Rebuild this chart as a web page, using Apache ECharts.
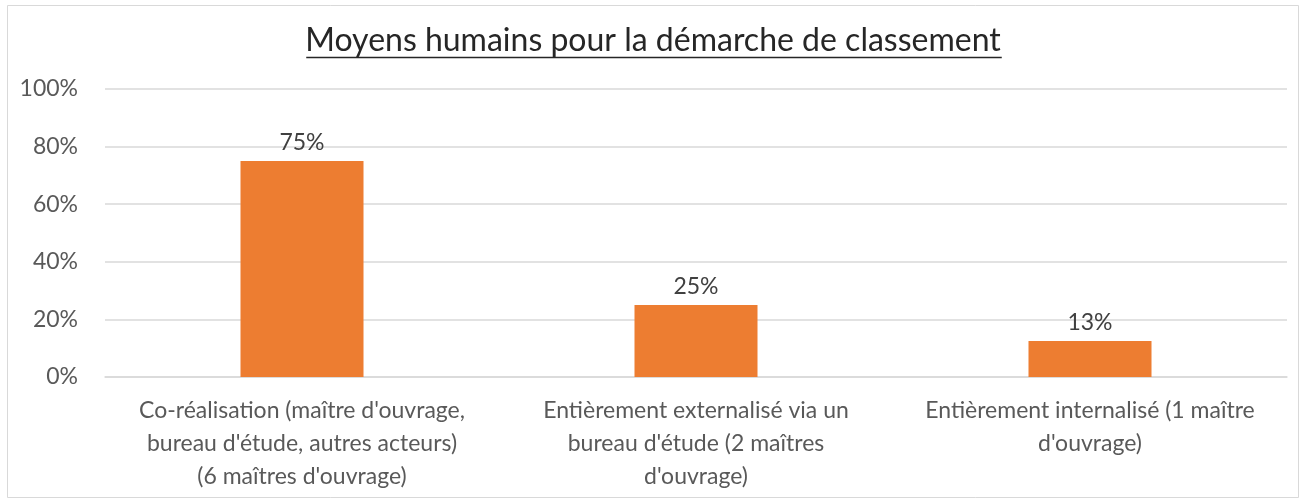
<!DOCTYPE html>
<html>
<head>
<meta charset="utf-8">
<script src="https://cdn.jsdelivr.net/npm/echarts@6/dist/echarts.min.js"></script>
<style>
  html, body { margin: 0; padding: 0; background: #fff; }
  #chart { width: 1306px; height: 502px; }
</style>
</head>
<body>
<div id="chart"></div>
<script>
var titleText = 'Moyens humains pour la démarche de classement';
var categories = [
    "Co-réalisation (maître d'ouvrage,\nbureau d'étude, autres acteurs)\n(6 maîtres d'ouvrage)",
    "Entièrement externalisé via un\nbureau d'étude (2 maîtres\nd'ouvrage)",
    "Entièrement internalisé (1 maître\nd'ouvrage)"
];
var values = [75, 25, 12.5];
var yTicks = [0, 20, 40, 60, 80, 100];

var font = 'Lato, "Open Sans", sans-serif';
var titleSize = 32;
var myChart = echarts.init(document.getElementById('chart'));

// underline under the title, sized from the text
var ctx = document.createElement('canvas').getContext('2d');
ctx.font = titleSize + 'px ' + font;
var w = ctx.measureText(titleText).width;

var option = {
    animation: false,
    backgroundColor: '#fff',
    title: {
        text: titleText,
        left: 'center',
        top: 20,
        textStyle: {
            fontFamily: font,
            fontSize: titleSize,
            fontWeight: 'normal',
            color: '#262626'
        }
    },
    graphic: [
        {
            type: 'rect',
            shape: { x: 7.5, y: 5.5, width: 1291, height: 492 },
            style: { fill: 'none', stroke: '#d9d9d9', lineWidth: 1 },
            silent: true
        },
        {
            type: 'line',
            shape: { x1: 654 - w / 2, y1: 57.5, x2: 654 + w / 2, y2: 57.5 },
            style: { stroke: '#262626', lineWidth: 1.5 },
            silent: true
        }
    ],
    grid: {
        left: 105,
        right: 19,
        top: 89,
        bottom: 125
    },
    xAxis: {
        type: 'category',
        data: categories,
        axisTick: { show: false },
        axisLine: { lineStyle: { color: '#d9d9d9', width: 1.5 } },
        axisLabel: {
            interval: 0,
            margin: 17,
            fontFamily: font,
            fontSize: 23,
            lineHeight: 33,
            color: '#595959',
            align: 'center'
        }
    },
    yAxis: {
        type: 'value',
        min: yTicks[0],
        max: yTicks[yTicks.length - 1],
        interval: 20,
        axisLine: { show: false },
        axisTick: { show: false },
        splitLine: { lineStyle: { color: '#d9d9d9', width: 1.5 } },
        axisLabel: {
            margin: 27,
            fontFamily: font,
            fontSize: 23,
            color: '#595959',
            formatter: '{value}%'
        }
    },
    series: [
        {
            type: 'bar',
            data: values,
            barWidth: 123,
            itemStyle: { color: '#ed7d31' },
            label: {
                show: true,
                position: 'top',
                distance: 7,
                fontFamily: font,
                fontSize: 23,
                color: '#404040',
                formatter: function (p) {
                    return Math.round(p.value) + '%';
                }
            }
        }
    ]
};
myChart.setOption(option);
</script>
</body>
</html>
